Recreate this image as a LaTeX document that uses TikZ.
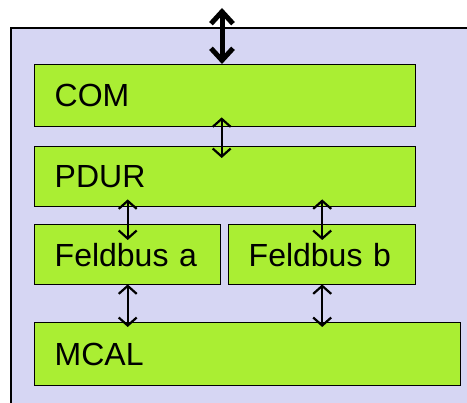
\documentclass[tikz,border=0pt]{standalone}
\usepackage{fontspec}
\setmainfont{Liberation Sans}
\usetikzlibrary{arrows.meta,calc}
\definecolor{lav}{RGB}{214,214,243}
\definecolor{lgreen}{RGB}{170,238,51}
\begin{document}
\begin{tikzpicture}[x=1pt,y=-1pt,
  layer/.style={draw=black,line width=1.4pt,fill=lgreen,inner xsep=20pt,inner ysep=0pt,
    minimum height=#1,align=left,font=\fontsize{32}{36}\selectfont},
  arr/.style={line width=2.2pt,{Straight Barb[length=8pt,width=18pt]}-{Straight Barb[length=8pt,width=18pt]}},
  bigarr/.style={line width=5pt,{Straight Barb[length=12pt,width=22pt]}-{Straight Barb[length=12pt,width=22pt]}}]
\useasboundingbox (0,0) rectangle (467,403);
\clip (0,0) rectangle (467,403);
\draw[line width=2pt,fill=lav] (11,28) rectangle (480,420);
\node[layer=62pt,text width=341pt,anchor=north west] (com) at (34,64) {COM};
\node[layer=60pt,text width=341pt,anchor=north west] (pdur) at (34,146) {PDUR};
\node[layer=60pt,text width=146pt,anchor=north west] (fa) at (34,224) {Feldbus a};
\node[layer=60pt,text width=147pt,anchor=north west] (fb) at (228,224) {Feldbus b};
\node[layer=63pt,text width=386pt,anchor=north west] (mcal) at (34,322) {MCAL};
\coordinate (top) at (222,8);
\draw[bigarr] (top) -- (top |- com.north);
\draw[arr] ([xshift=-3.5pt,yshift=10pt]com.south) -- ([xshift=-3.5pt,yshift=-12pt]pdur.north);
\draw[arr] ([yshift=8pt]pdur.south -| fa.north) -- ([yshift=-16pt]fa.north);
\draw[arr] ([yshift=8pt]pdur.south -| fb.north) -- ([yshift=-16pt]fb.north);
\draw[arr] ([yshift=1pt]fa.south) -- ([yshift=-5pt]mcal.north -| fa.south);
\draw[arr] ([yshift=1pt]fb.south) -- ([yshift=-5pt]mcal.north -| fb.south);
\end{tikzpicture}
\end{document}
